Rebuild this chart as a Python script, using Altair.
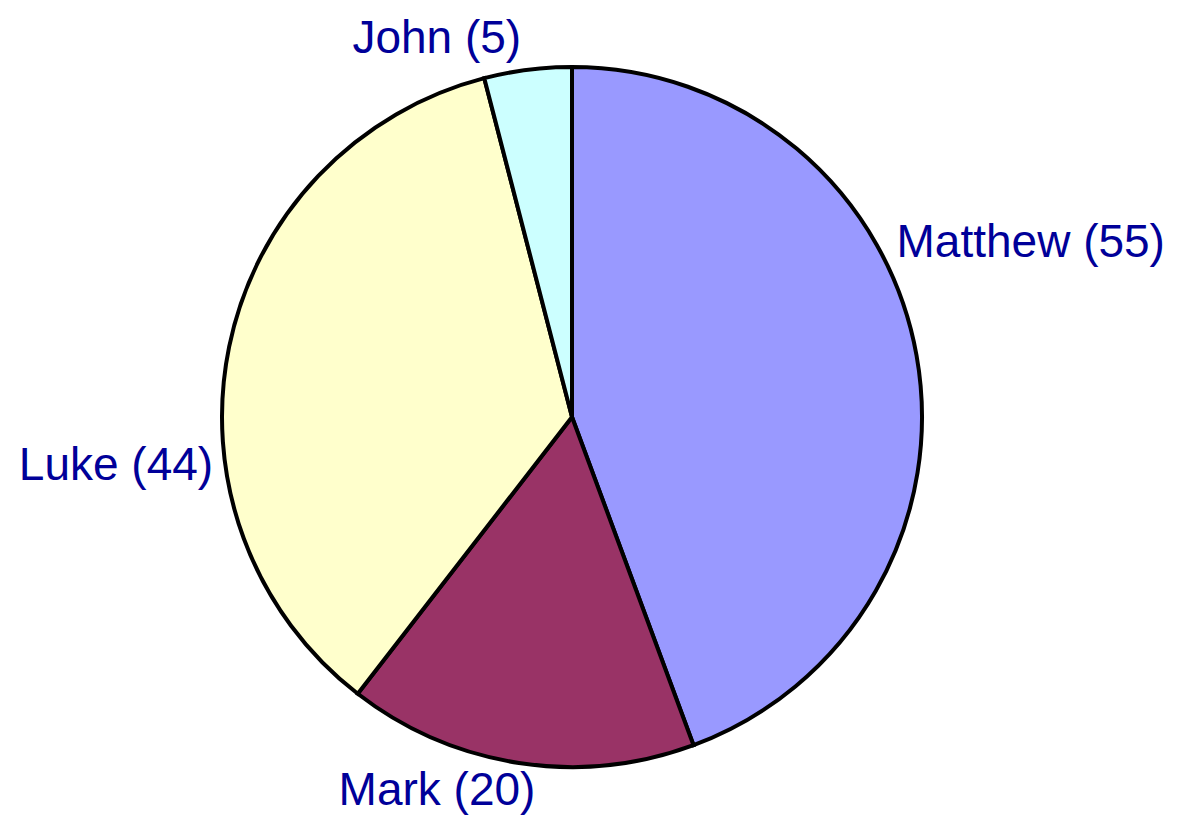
import altair as alt
import pandas as pd

names = ["Matthew", "Mark", "Luke", "John"]
values = [55, 20, 44, 5]
colors = ["#9999FF", "#993366", "#FFFFCC", "#CCFFFF"]

df = pd.DataFrame({
    "name": names,
    "value": values,
    "idx": list(range(len(names))),
})
df["label"] = [f"{n} ({v})" for n, v in zip(names, values)]

CX, CY, R = 564, 409, 350

base = alt.Chart(df)

pie = base.mark_arc(outerRadius=R, stroke="black", strokeWidth=4).encode(
    theta=alt.Theta("value:Q", stack=True),
    color=alt.Color("name:N", scale=alt.Scale(domain=names, range=colors), legend=None),
    order=alt.Order("idx:Q"),
    x=alt.value(CX),
    y=alt.value(CY),
)

lab_base = base.transform_joinaggregate(total="sum(value)").transform_window(
    cum="sum(value)", sort=[alt.SortField("idx")]
).transform_calculate(
    mid="(datum.cum - datum.value/2) / datum.total * 2 * PI"
)

settings = {
    "Matthew": dict(align="left", dx=-20, dy=-98),
    "Mark": dict(align="center", dx=-82, dy=42),
    "Luke": dict(align="right", dx=-16, dy=133),
    "John": dict(align="center", dx=-91, dy=-17),
}

layers = [pie]
for n in names:
    s = settings[n]
    t = lab_base.transform_filter(alt.datum.name == n).mark_text(
        radius=R, baseline="alphabetic", font="Liberation Sans", fontSize=46,
        color="#000099", align=s["align"], dx=s["dx"], dy=s["dy"],
    ).encode(
        theta=alt.Theta("mid:Q", scale=None),
        text="label:N",
        x=alt.value(CX),
        y=alt.value(CY),
    )
    layers.append(t)

chart = alt.layer(*layers).properties(
    width=1170, height=808, padding=0, autosize=alt.AutoSizeParams(type="none")
).configure_view(stroke=None)

chart.save("out.html", embed_options={"renderer": "svg", "actions": False})
